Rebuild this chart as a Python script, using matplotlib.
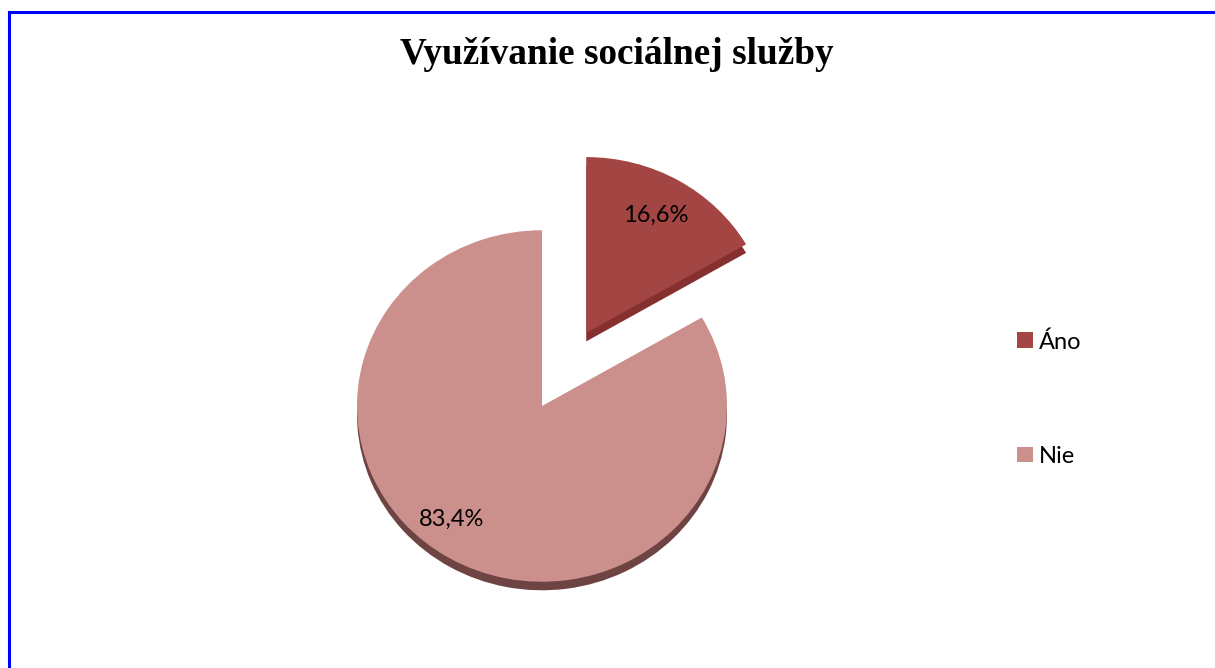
import matplotlib
matplotlib.use("Agg")
import matplotlib.pyplot as plt
from matplotlib.patches import Rectangle

labels = ["Áno", "Nie"]
values = [16.6, 83.4]
colors = ["#A34543", "#CB8F8C"]
side_colors = ["#85302F", "#6E4443"]

W, H = 1215, 668
SQ = 0.95  # slight vertical squash (tilted pie look)


def px(x, y):
    # pixel position (from top-left) -> data coordinates
    return x, (H - y) / SQ


fig = plt.figure(figsize=(W / 100, H / 100), dpi=100)
ax = fig.add_axes([0, 0, 1, 1])

cx, cy = px(542, 406)
r = 185
# explode is in data units, not radius fraction
explode = [0.48 * r, 0.0]

# side face / shadow: same pie shifted down
ax.pie(values, colors=side_colors, startangle=90, counterclock=False,
       explode=explode, radius=r, center=(cx, cy - 9),
       wedgeprops=dict(linewidth=0))
wedges, _ = ax.pie(values, colors=colors, startangle=90, counterclock=False,
                   explode=explode, radius=r, center=(cx, cy),
                   wedgeprops=dict(linewidth=0))

ax.set_xlim(0, W)
ax.set_ylim(0, H / SQ)
ax.set_aspect("auto")
ax.axis("off")


def fmt(v):
    return f"{v:.1f}".replace(".", ",") + "%"


label_pos = [(656, 215), (452, 519)]
for v, (x, y) in zip(values, label_pos):
    ax.text(*px(x, y), fmt(v), ha="center", va="center",
            fontsize=17, family="Lato", color="black")

fig.text(617 / W, 1 - 55 / H, "Využívanie sociálnej služby", ha="center",
         va="center", fontsize=26.8, fontweight="bold", family="Liberation Serif")

fig.legend(wedges, labels, loc="center left", bbox_to_anchor=(996 / W, 1 - 399 / H),
           frameon=False, prop={"family": "Lato", "size": 17},
           handlelength=0.65, handleheight=0.65, handletextpad=0.25,
           labelspacing=3.95)

# blue outer border (runs off the right and bottom edges)
fig.patches.append(Rectangle((9 / W, -0.1), 1.2, 1 - 12 / H + 0.1,
                             transform=fig.transFigure, fill=False,
                             edgecolor="#0000FF", linewidth=2.2))

fig.savefig("out.png", dpi=100)
